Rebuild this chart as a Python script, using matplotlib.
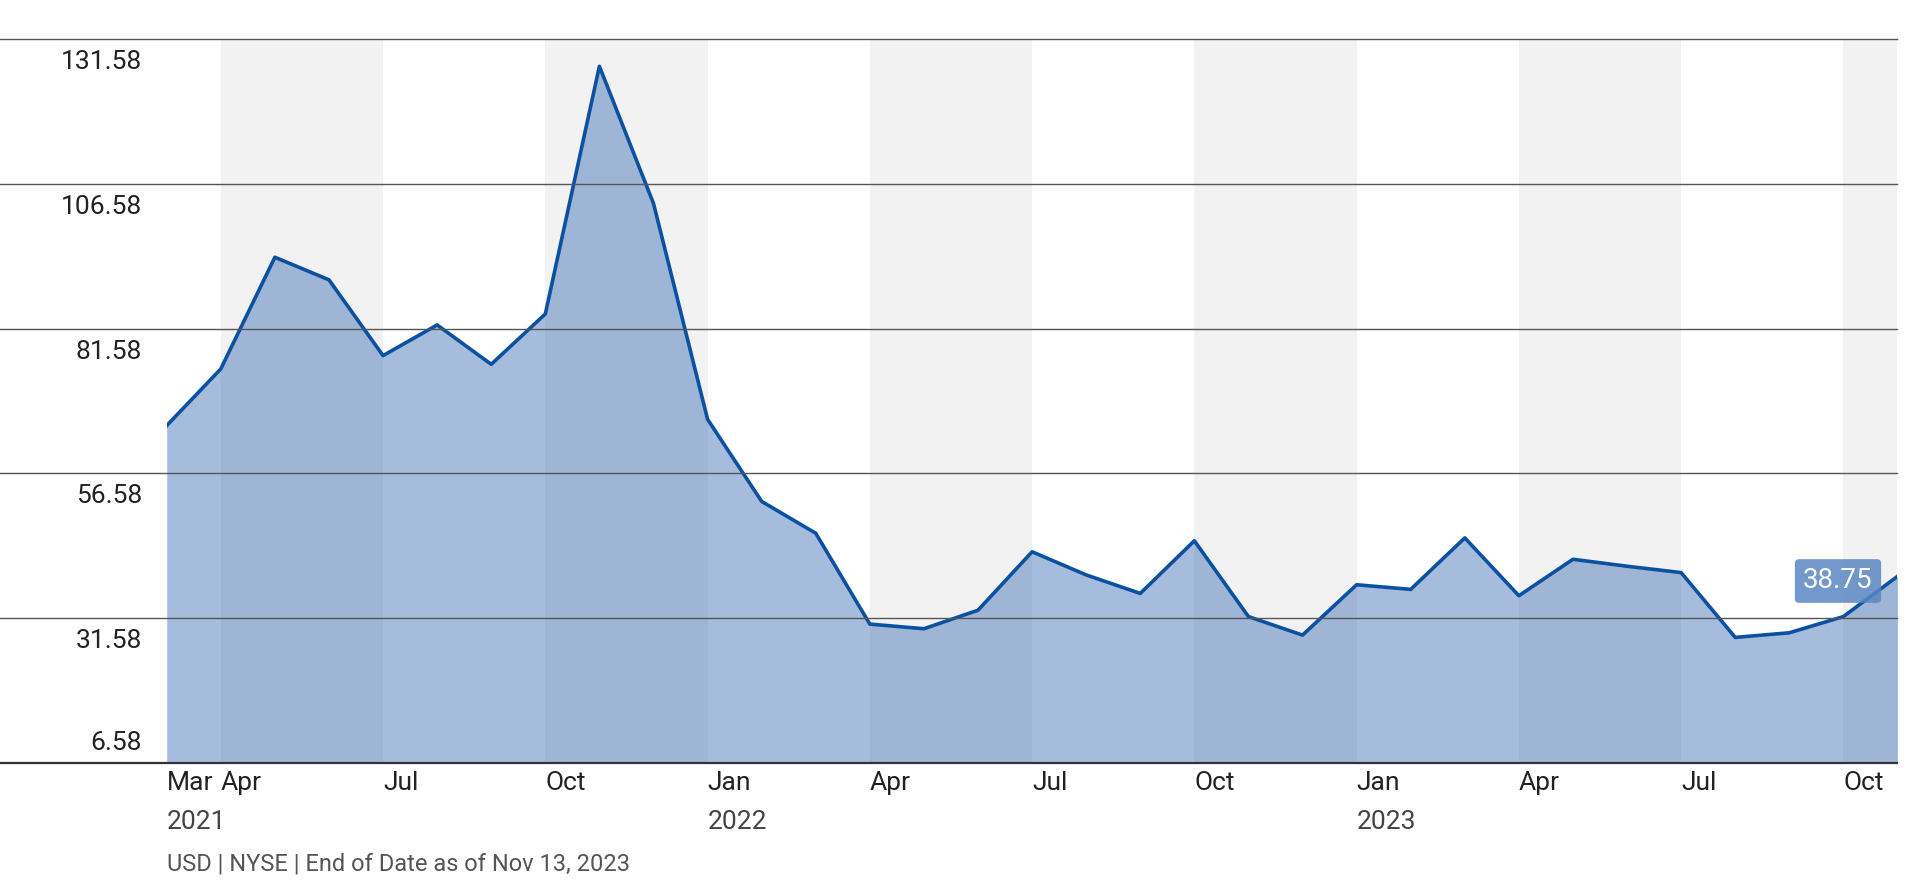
import matplotlib.pyplot as plt
from matplotlib.lines import Line2D
import numpy as np

plt.rcParams['font.family'] = ['Liberation Sans Narrow', 'Roboto', 'DejaVu Sans']

# Monthly closes, Mar 2021 .. Nov 2023
months = ["Mar", "Apr", "May", "Jun", "Jul", "Aug", "Sep", "Oct", "Nov", "Dec",
          "Jan", "Feb", "Mar", "Apr", "May", "Jun", "Jul", "Aug", "Sep", "Oct", "Nov", "Dec",
          "Jan", "Feb", "Mar", "Apr", "May", "Jun", "Jul", "Aug", "Sep", "Oct", "Nov"]
prices = [64.8, 74.6, 93.9, 90.0, 76.9, 82.2, 75.4, 84.1, 126.9, 103.2,
          65.9, 51.7, 46.2, 30.5, 29.7, 32.9, 43.0, 39.0, 35.8, 44.9, 31.8, 28.6,
          37.3, 36.5, 45.4, 35.4, 41.7, 40.5, 39.4, 28.2, 29.0, 31.8, 38.75]
yticks = [6.58, 31.58, 56.58, 81.58, 106.58, 131.58]
tick_months = ["Mar", "Apr", "Jul", "Oct", "Jan"]
years = {0: "2021", 10: "2022", 22: "2023"}
last_price = 38.75

W, H = 1568, 726
fig = plt.figure(figsize=(19.22, 8.9), dpi=100)
ax = fig.add_axes([136 / W, 1 - 622 / H, 1412 / W, 590 / H])
x = np.arange(len(prices))

# quarter shading: Apr-Jun, Oct-Dec
for i, m in enumerate(months):
    if m in ("Apr", "Oct"):
        ax.axvspan(i, min(i + 3, len(prices) - 1), color='#f2f2f2', zorder=0, lw=0)

ax.fill_between(x, 0, prices, color='#3d6eb3', alpha=0.46, lw=0, zorder=1)
ax.plot(x, prices, color='#0b51a1', lw=2.6, zorder=3)

ax.set_xlim(0, len(prices) - 1)
ax.set_ylim(6.58, 131.58)
ax.set_xticks([])
ax.set_yticks([])
for s in ax.spines.values():
    s.set_visible(False)

# gridlines spanning to the figure's left edge
for v in yticks:
    yf = (1 - 622 / H) + (v - 6.58) / 125 * (590 / H)
    c = '#333333' if v == 6.58 else '#555555'
    fig.add_artist(Line2D([0, 1548 / W], [yf, yf], color=c, lw=1.6 if v == 6.58 else 1.0, zorder=2))
    if v == 6.58:
        fig.text(116 / W, yf + 6 / H, f"{v:.2f}", ha='right', va='bottom', fontsize=19, color='#222222')
    else:
        fig.text(116 / W, yf - 9 / H, f"{v:.2f}", ha='right', va='top', fontsize=19, color='#222222')

for i, m in enumerate(months):
    if m in tick_months and (m != "Apr" or True):
        if m in ("Mar",) and i != 0:
            continue
        ax.text(i, -0.012, m, transform=ax.get_xaxis_transform(), ha='left', va='top',
                fontsize=19, color='#222222')
    if i in years:
        ax.text(i, -0.065, years[i], transform=ax.get_xaxis_transform(), ha='left', va='top',
                fontsize=19, color='#444444')

ax.text(len(prices) - 2.1, last_price - 0.8, f"{last_price:.2f}", ha='center', va='center',
        fontsize=20, color='white', zorder=5,
        bbox=dict(boxstyle='round,pad=0.3,rounding_size=0.15', fc='#5b86c2', ec='none', alpha=0.85))

fig.text(136 / W, 1 - 705 / H, "USD | NYSE | End of Date as of Nov 13, 2023", ha='left', va='center',
         fontsize=17, color='#555555')

fig.savefig("out.png", dpi=100)
